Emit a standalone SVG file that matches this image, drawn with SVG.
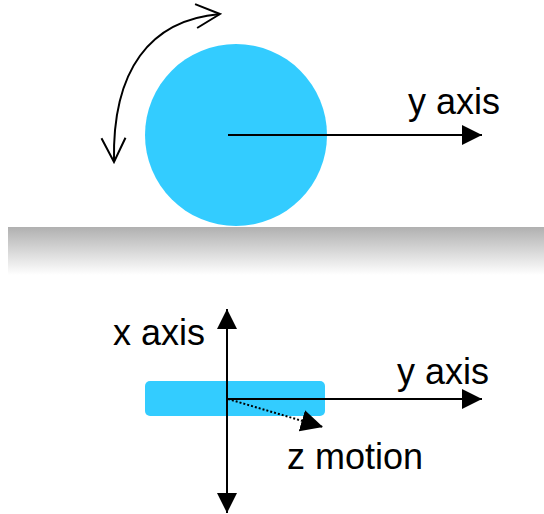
<svg xmlns="http://www.w3.org/2000/svg" width="544" height="514" viewBox="0 0 544 514">
<style>
.lbl{font-family:"Liberation Sans",Arial,sans-serif;font-size:36px;fill:#000}
.ln{stroke:#000;stroke-width:2;fill:none}
.blue{fill:#33CCFF}
</style>
<defs>
<linearGradient id="g" x1="0" y1="0" x2="0" y2="1">
<stop offset="0" stop-color="#b0b0b0"/>
<stop offset="1" stop-color="#ffffff"/>
</linearGradient>
<marker id="tri" viewBox="0 0 20 20" refX="20" refY="10" markerWidth="20" markerHeight="20" markerUnits="userSpaceOnUse" orient="auto-start-reverse">
<path d="M0,0 L20,10 L0,20 Z" fill="#000"/>
</marker>
<marker id="tri2" viewBox="0 0 22 22" refX="22" refY="11" markerWidth="22" markerHeight="22" markerUnits="userSpaceOnUse" orient="auto">
<path d="M0,0 L22,11 L0,22 Z" fill="#000"/>
</marker>
<marker id="open" viewBox="0 0 28 28" refX="26" refY="14" markerWidth="28" markerHeight="28" markerUnits="userSpaceOnUse" orient="auto-start-reverse">
<path d="M2,2 L26,14 L2,26" fill="none" stroke="#000" stroke-width="2"/>
</marker>
</defs>
<rect id="ground" x="8" y="227" width="536" height="48" fill="url(#g)"/>
<g id="wheel"><circle class="blue" cx="236" cy="135" r="91"/></g>
<g id="plate"><rect class="blue" x="145" y="381" width="180" height="35" rx="5"/></g>
<g id="connectors">
<path id="rot" class="ln" d="M114,162 C112,70 150,20 220,14" marker-start="url(#open)" marker-end="url(#open)"/>
<line class="ln" x1="228" y1="135" x2="482" y2="135" marker-end="url(#tri)"/>
<line class="ln" x1="227" y1="309" x2="227" y2="513" marker-start="url(#tri)" marker-end="url(#tri)"/>
<line class="ln" x1="227" y1="399" x2="482" y2="399" marker-end="url(#tri)"/>
<line x1="228" y1="399" x2="323" y2="427" stroke="#000" stroke-width="2" stroke-dasharray="2,2" marker-end="url(#tri2)"/>
</g>
<g id="labels">
<text class="lbl" x="408" y="114">y axis</text>
<text class="lbl" x="397" y="384">y axis</text>
<text class="lbl" x="113" y="345">x axis</text>
<text class="lbl" x="287" y="469">z motion</text>
</g>
</svg>
